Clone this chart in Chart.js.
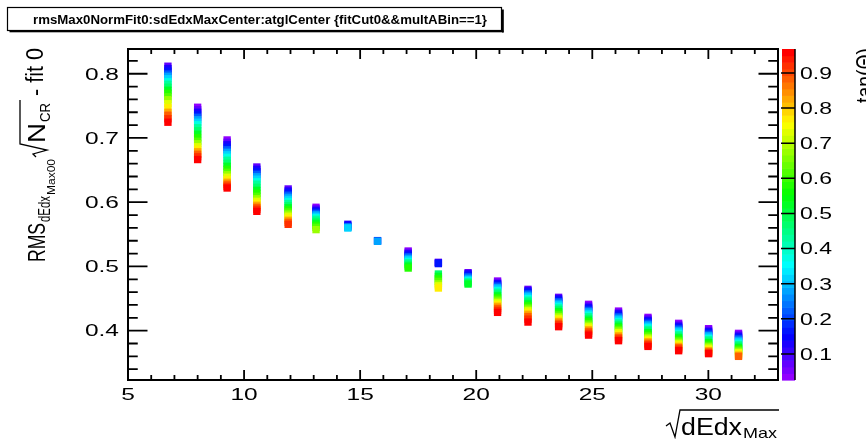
<!DOCTYPE html>
<html>
<head>
<meta charset="utf-8">
<script src="https://cdn.jsdelivr.net/npm/chart.js@4.4.1/dist/chart.umd.min.js"></script>
<style>
  html, body { margin: 0; padding: 0; background: #fff; }
  canvas { display: block; }
</style>
</head>
<body>
<canvas id="c" width="866" height="439"></canvas>
<script>
// ══════════════════════════════════════════
// rmsMax0NormFit0 vs sqrt(dEdxMax), cor = tan(theta)
// ══════════════════════════════════════════

// ── DADOS ──

const sqrtDEdx = [6.72, 8.0, 9.27, 10.55, 11.9, 13.1, 14.47, 15.75, 17.07, 18.37,
                  19.65, 20.92, 22.23, 23.55, 24.84, 26.13, 27.4, 28.72, 30.01, 31.3];

const tanTheta = [0.025, 0.075, 0.125, 0.175, 0.225, 0.275, 0.325, 0.375, 0.425, 0.475,
                  0.525, 0.575, 0.625, 0.675, 0.725, 0.775, 0.825, 0.875, 0.925, 0.975];

// uma coluna por bin de sqrt(dEdx), um valor por bin de tan(theta) (null = vazio)
const col01 = [null, 0.8117, 0.8080, 0.8040, 0.7995, 0.7960, 0.7922, 0.7875, 0.7836, 0.7790, 0.7743, 0.7696, 0.7642, 0.7595, 0.7533, 0.7470, 0.7400, 0.7354, 0.7299, 0.7245];
const col02 = [0.7478, 0.7439, 0.7400, 0.7361, 0.7322, 0.7283, 0.7245, 0.7206, 0.7159, 0.7112, 0.7058, 0.7003, 0.6949, 0.6910, 0.6863, 0.6824, 0.6785, 0.6746, 0.6707, 0.6664];
const col03 = [0.6969, 0.6933, 0.6894, 0.6855, 0.6816, 0.6777, 0.6738, 0.6699, 0.6653, 0.6606, 0.6559, 0.6512, 0.6466, 0.6427, 0.6388, 0.6349, 0.6310, 0.6279, 0.6248, 0.6221];
const col04 = [null, 0.6548, 0.6512, 0.6474, 0.6435, 0.6396, 0.6358, 0.6318, 0.6280, 0.6232, 0.6185, 0.6139, 0.6092, 0.6053, 0.6014, 0.5983, 0.5952, 0.5920, 0.5890, 0.5858];
const col05 = [null, 0.6206, 0.6174, 0.6142, 0.6109, 0.6076, 0.6044, 0.6011, 0.5978, 0.5945, 0.5913, 0.5880, 0.5847, 0.5815, 0.5782, 0.5749, 0.5718, 0.5687, 0.5656, null];
const col06 = [0.5921, 0.5897, 0.5874, 0.5850, 0.5827, 0.5804, 0.5780, 0.5757, 0.5734, 0.5703, 0.5671, 0.5640, 0.5609, 0.5573, null, null, null, null, null, null];
const col07 = [null, null, 0.5656, 0.5632, 0.5617, 0.5609, 0.5598, null, null, null, null, null, null, null, null, null, null, null, null, null];
const col08 = [null, null, null, 0.5402, 0.5396, 0.5391, null, null, null, null, null, null, null, null, null, null, null, null, null, null];
const col09 = [0.5240, 0.5220, 0.5196, 0.5173, 0.5150, 0.5126, 0.5103, 0.5079, 0.5056, 0.5033, 0.5006, 0.4975, null, null, null, null, null, null, null, null];
const col10 = [null, 0.5064, 0.5056, 0.5044, null, null, null, null, null, 0.4882, 0.4846, 0.4807, 0.4768, 0.4729, 0.4698, 0.4664, null, null, null, null];
const col11 = [null, 0.4903, 0.4885, 0.4861, 0.4838, 0.4815, 0.4794, 0.4776, 0.4760, 0.4745, 0.4726, null, null, null, null, null, null, null, null, null];
const col12 = [0.4773, 0.4752, 0.4732, 0.4713, 0.4693, 0.4670, 0.4648, 0.4623, 0.4597, 0.4570, 0.4542, 0.4514, 0.4488, 0.4459, 0.4433, 0.4405, 0.4379, 0.4347, 0.4316, 0.4285];
const col13 = [null, 0.4643, 0.4620, 0.4597, 0.4573, 0.4550, 0.4526, 0.4500, 0.4473, 0.4445, 0.4417, 0.4389, 0.4361, 0.4335, 0.4308, 0.4282, 0.4255, 0.4220, 0.4180, 0.4134];
const col14 = [null, 0.4519, 0.4495, 0.4472, 0.4449, 0.4425, 0.4402, 0.4377, 0.4352, 0.4326, 0.4299, 0.4273, 0.4246, 0.4220, 0.4193, 0.4168, 0.4143, 0.4115, 0.4090, 0.4062];
const col15 = [0.4410, 0.4386, 0.4363, 0.4340, 0.4316, 0.4293, 0.4268, 0.4243, 0.4217, 0.4190, 0.4164, 0.4137, 0.4110, 0.4084, 0.4059, 0.4034, 0.4012, 0.3988, 0.3959, 0.3931];
const col16 = [0.4305, 0.4283, 0.4262, 0.4238, 0.4215, 0.4192, 0.4168, 0.4143, 0.4118, 0.4093, 0.4069, 0.4044, 0.4019, 0.3994, 0.3969, 0.3944, 0.3919, 0.3894, 0.3869, 0.3844];
const col17 = [0.4207, 0.4184, 0.4160, 0.4137, 0.4114, 0.4090, 0.4067, 0.4044, 0.4019, 0.3994, 0.3969, 0.3944, 0.3919, 0.3894, 0.3869, 0.3847, 0.3826, 0.3804, 0.3779, 0.3755];
const col18 = [0.4114, 0.4090, 0.4069, 0.4047, 0.4025, 0.4003, 0.3981, 0.3958, 0.3935, 0.3911, 0.3888, 0.3864, 0.3841, 0.3818, 0.3794, 0.3774, 0.3754, 0.3734, 0.3712, 0.3688];
const col19 = [0.4031, 0.4009, 0.3988, 0.3966, 0.3944, 0.3922, 0.3900, 0.3879, 0.3857, 0.3835, 0.3813, 0.3791, 0.3769, 0.3748, 0.3727, 0.3707, 0.3688, 0.3670, 0.3654, 0.3642];
const col20 = [0.3958, 0.3936, 0.3914, 0.3893, 0.3871, 0.3849, 0.3827, 0.3805, 0.3783, 0.3762, 0.3740, 0.3718, 0.3698, 0.3678, 0.3657, 0.3639, 0.3618, 0.3600, null, null];

const rmsColumns = [col01, col02, col03, col04, col05, col06, col07, col08, col09, col10,
                    col11, col12, col13, col14, col15, col16, col17, col18, col19, col20];

const xTicks = [5, 10, 15, 20, 25, 30];
const xTickLabels = ['5', '10', '15', '20', '25', '30'];
const yTicks = [0.4, 0.5, 0.6, 0.7, 0.8];
const yTickLabels = ['0.4', '0.5', '0.6', '0.7', '0.8'];
const zTicks = [0.1, 0.2, 0.3, 0.4, 0.5, 0.6, 0.7, 0.8, 0.9];
const zTickLabels = ['0.1', '0.2', '0.3', '0.4', '0.5', '0.6', '0.7', '0.8', '0.9'];

const X_MIN = 5, X_MAX = 33;
const Y_MIN = 0.3232, Y_MAX = 0.8385;
const Z_MIN = 0.026, Z_MAX = 0.968;

const TITLE = 'rmsMax0NormFit0:sdEdxMaxCenter:atglCenter {fitCut0&&multABin==1}';

// ── PALETA (ROOT pretty palette, 50 cores) ──

const NCOL = 50;
const FONT = '"Liberation Sans", Arial, sans-serif';

function paletteColor(k) {
  const hue = 280 - (k + 1) * 280 / NCOL;
  return `hsl(${hue}, 100%, 50%)`;
}

function colorForTan(t) {
  let k = Math.floor((t - Z_MIN) / (Z_MAX - Z_MIN) * NCOL);
  if (k < 0) k = 0;
  if (k > NCOL - 1) k = NCOL - 1;
  return paletteColor(k);
}

// ── HELPERS DE TEXTO ──

function label(ctx, str, x, y, align, size, sy) {
  ctx.save();
  ctx.font = size + 'px ' + FONT;
  ctx.textAlign = align;
  ctx.textBaseline = 'alphabetic';
  ctx.translate(x, y);
  ctx.scale(1, sy);
  ctx.fillText(str, 0, 0);
  ctx.restore();
}

// texto horizontal esticado entre x0 e x1
function fitText(ctx, str, x0, x1, baseY, size, bold) {
  ctx.save();
  ctx.font = (bold ? 'bold ' : '') + size + 'px ' + FONT;
  ctx.textAlign = 'left';
  ctx.textBaseline = 'alphabetic';
  const w = ctx.measureText(str).width;
  ctx.translate(x0, baseY);
  ctx.scale((x1 - x0) / w, 1);
  ctx.fillText(str, 0, 0);
  ctx.restore();
}

// texto vertical (de baixo p/ cima) entre yBottom e yTop
function fitTextUp(ctx, str, baseX, yBottom, yTop, size) {
  ctx.save();
  ctx.font = size + 'px ' + FONT;
  ctx.textAlign = 'left';
  ctx.textBaseline = 'alphabetic';
  const w = ctx.measureText(str).width;
  ctx.translate(baseX, yBottom);
  ctx.rotate(-Math.PI / 2);
  ctx.scale((yBottom - yTop) / w, 1);
  ctx.fillText(str, 0, 0);
  ctx.restore();
}

function polyline(ctx, pts, lw) {
  ctx.save();
  ctx.lineWidth = lw;
  ctx.strokeStyle = '#000';
  ctx.lineJoin = 'miter';
  ctx.beginPath();
  ctx.moveTo(pts[0][0], pts[0][1]);
  for (let i = 1; i < pts.length; i++) ctx.lineTo(pts[i][0], pts[i][1]);
  ctx.stroke();
  ctx.restore();
}

// ── PLUGIN: moldura, eixos, paleta, titulos ──

const rootStyle = {
  id: 'rootStyle',
  beforeDraw(chart) {
    const ctx = chart.ctx;
    ctx.save();
    ctx.fillStyle = '#fff';
    ctx.fillRect(0, 0, chart.width, chart.height);
    ctx.restore();
  },
  afterDraw(chart) {
    const ctx = chart.ctx;
    const { left, right, top, bottom } = chart.chartArea;
    const xs = chart.scales.x, ys = chart.scales.y, zs = chart.scales.z;
    ctx.save();
    ctx.fillStyle = '#000';
    ctx.strokeStyle = '#000';

    // moldura
    ctx.lineWidth = 2;
    ctx.strokeRect(left, top, right - left, bottom - top);

    // ticks x (para dentro, em baixo e em cima)
    const xLen = 0.03 * (bottom - top);
    ctx.lineWidth = 1.8;
    ctx.beginPath();
    for (let v = X_MIN; v <= X_MAX; v++) {
      const px = xs.getPixelForValue(v);
      const len = v % 5 === 0 ? xLen : xLen / 2;
      ctx.moveTo(px, bottom); ctx.lineTo(px, bottom - len);
      ctx.moveTo(px, top); ctx.lineTo(px, top + len);
    }
    // ticks y (esquerda e direita)
    const yLen = 0.03 * (right - left);
    for (let k = 17; k <= 41; k++) {
      const py = ys.getPixelForValue(k * 0.02);
      const len = k % 5 === 0 ? yLen : yLen / 2;
      ctx.moveTo(left, py); ctx.lineTo(left + len, py);
      ctx.moveTo(right, py); ctx.lineTo(right - len, py);
    }
    ctx.stroke();

    // rotulos
    xTicks.forEach((v, i) => label(ctx, xTickLabels[i], xs.getPixelForValue(v), 400, 'center', 24.5, 0.66));
    yTicks.forEach((v, i) => label(ctx, yTickLabels[i], 119, ys.getPixelForValue(v) + 5.8, 'right', 24.5, 0.66));

    // paleta de cores
    const bx0 = right + 4, bx1 = 795;
    for (let k = 0; k < NCOL; k++) {
      const lo = Z_MIN + k * (Z_MAX - Z_MIN) / NCOL;
      const hi = Z_MIN + (k + 1) * (Z_MAX - Z_MIN) / NCOL;
      const y0 = zs.getPixelForValue(hi), y1 = zs.getPixelForValue(lo);
      ctx.fillStyle = paletteColor(k);
      ctx.fillRect(bx0, y0, bx1 - bx0, y1 - y0 + 0.6);
    }
    ctx.fillStyle = '#000';
    ctx.lineWidth = 1.5;
    ctx.beginPath();
    ctx.moveTo(bx1, top); ctx.lineTo(bx1, bottom);
    zTicks.forEach(v => {
      const py = zs.getPixelForValue(v);
      ctx.moveTo(bx1, py); ctx.lineTo(bx0 - 1, py);
    });
    ctx.stroke();
    zTicks.forEach((v, i) => label(ctx, zTickLabels[i], 800, zs.getPixelForValue(v) + 5.8, 'left', 23, 0.7));

    // titulo do eixo z (cortado na borda direita)
    fitTextUp(ctx, 'tan(\u0398)', 873, 103, 48, 24);

    // titulo do eixo x: sqrt(dEdx_Max)
    polyline(ctx, [[666, 426], [670, 423], [675, 437], [680, 410], [779, 410]], 1.3);
    fitText(ctx, 'dEdx', 681, 742, 435, 23, false);
    fitText(ctx, 'Max', 743, 777, 437.5, 14.8, false);

    // titulo do eixo y: RMS_dEdx_Max00 sqrt(N_CR) - fit 0
    fitTextUp(ctx, 'RMS', 45, 262, 223, 23.5);
    fitTextUp(ctx, 'dEdx', 50, 222, 196, 16.5);
    fitTextUp(ctx, 'Max00', 55, 195, 159, 11);
    polyline(ctx, [[36, 157], [33, 154], [47, 150], [20, 144], [20, 100]], 1.3);
    fitTextUp(ctx, 'N', 45, 143, 123, 23.5);
    fitTextUp(ctx, 'CR', 50, 122, 103, 15);
    fitTextUp(ctx, '- fit 0', 43, 96, 48, 23.5);

    // caixa do titulo
    ctx.fillStyle = '#fff';
    ctx.fillRect(7, 7, 495, 24);
    ctx.fillStyle = '#000';
    ctx.lineWidth = 1.2;
    ctx.strokeRect(7.5, 7.5, 494, 23);
    ctx.fillRect(502, 9.5, 1.8, 23);
    ctx.fillRect(9.5, 30.5, 494, 1.8);
    fitText(ctx, TITLE, 33, 487, 24, 12, true);

    ctx.restore();
  }
};

// ── CHART ──

const datasets = rmsColumns.map((col, c) => ({
  label: 'sqrtDEdx ' + sqrtDEdx[c],
  data: col
    .map((v, i) => (v == null ? null : { x: sqrtDEdx[c], y: v, t: tanTheta[i] }))
    .filter(Boolean),
  pointStyle: 'rect',
  pointRadius: 5.2,
  pointHoverRadius: 5.2,
  pointBorderWidth: 0,
  pointBackgroundColor: ctx => (ctx.raw ? colorForTan(ctx.raw.t) : '#000'),
  showLine: false,
}));

new Chart(document.getElementById('c'), {
  type: 'scatter',
  data: { datasets },
  options: {
    responsive: false,
    animation: false,
    devicePixelRatio: 1,
    events: [],
    layout: { padding: { left: 128, top: 49, right: 88, bottom: 59 } },
    plugins: { legend: { display: false }, tooltip: { enabled: false } },
    scales: {
      x: { type: 'linear', min: X_MIN, max: X_MAX, display: false },
      y: { type: 'linear', min: Y_MIN, max: Y_MAX, display: false },
      z: { type: 'linear', axis: 'y', position: 'right', min: Z_MIN, max: Z_MAX, display: false },
    }
  },
  plugins: [rootStyle]
});
</script>
</body>
</html>
